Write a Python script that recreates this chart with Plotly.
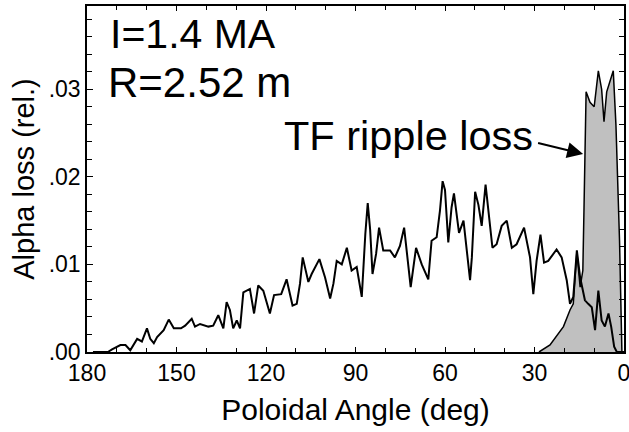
import plotly.graph_objects as go

# Total alpha loss vs poloidal angle
angle_total = [178, 173, 171.6, 168.8, 167.1, 165.5, 163.2, 161.6, 159.9, 158.8, 157.6, 156.5,
               154.3, 152.6, 150.9, 148.5, 147.1, 144.9, 143.8, 142.1, 139.3, 137.7, 136.0,
               134.3, 133.2, 132.1, 131.0, 129.8, 128.7, 127.6, 125.4, 124.0, 122.6, 120.9,
               118.7, 117.3, 114.9, 113.1, 111.1, 109.7, 108.6, 107.7, 105.8, 104.7, 102.1,
               100.2, 98.5, 97.4, 96.3, 94.6, 92.9, 91.3, 89.6, 87.9, 86.7, 85.9, 85.1, 84.3,
               83.1, 82.1, 80.7, 78.4, 76.8, 75.1, 73.7, 72.9, 71.5, 69.7, 67.8, 65.6, 64.5,
               62.8, 61.7, 60.8, 60.0, 58.9, 57.8, 57.0, 56.2, 55.3, 53.8, 52.7, 51.6, 51.0,
               49.9, 48.8, 47.7, 46.4, 45.5, 44.1, 42.7, 41.0, 39.3, 37.6, 36.0, 33.5, 31.5,
               30.4, 29.3, 28.0, 26.8, 25.4, 22.6, 20.9, 19.2, 18.1, 17.0, 15.8, 14.7, 13.8,
               13.1, 12.0, 10.8, 9.7, 8.6, 7.5, 6.4, 5.2, 4.3, 3.3, 2.4, 0.0]
loss_total = [0.0, 0.0, 0.0003, 0.0008, 0.0008, 0.0002, 0.0015, 0.0012, 0.0027, 0.0015, 0.0010,
              0.0017, 0.0025, 0.0037, 0.0027, 0.0027, 0.0030, 0.0038, 0.0029, 0.0032, 0.0029,
              0.0030, 0.0042, 0.0027, 0.0057, 0.0048, 0.0027, 0.0036, 0.0027, 0.0068, 0.0072,
              0.0044, 0.0076, 0.0070, 0.0044, 0.0065, 0.0066, 0.0083, 0.0053, 0.0055, 0.0078,
              0.0108, 0.0080, 0.0089, 0.0106, 0.0085, 0.0061, 0.0078, 0.0104, 0.0100, 0.0119,
              0.0093, 0.0097, 0.0063, 0.0135, 0.0170, 0.0140, 0.0089, 0.0112, 0.0142, 0.0116,
              0.0116, 0.0108, 0.0121, 0.0142, 0.0117, 0.0074, 0.0119, 0.0100, 0.0083, 0.0127,
              0.0131, 0.0161, 0.0195, 0.0185, 0.0125, 0.0165, 0.0181, 0.0160, 0.0136, 0.0150,
              0.0116, 0.0082, 0.0108, 0.0183, 0.0168, 0.0144, 0.0191, 0.0161, 0.0119, 0.0123,
              0.0144, 0.0150, 0.0119, 0.0123, 0.0142, 0.0108, 0.0066, 0.0104, 0.0134, 0.0102,
              0.0104, 0.0117, 0.0108, 0.0082, 0.0055, 0.0063, 0.0116, 0.0085, 0.0070, 0.0059,
              0.0055, 0.0051, 0.0025, 0.0070, 0.0036, 0.0029, 0.0044, 0.0029, 0.0006, 0.0, 0.0]

# TF ripple loss (shaded)
angle_ripple = [28.5, 24.8, 20.3, 18.1, 17.0, 15.8, 14.7, 13.8, 13.4, 13.1, 12.7, 11.4, 10.0,
                8.6, 7.5, 6.7, 5.8, 3.6, 2.7, 1.5, 0.7, 0.0]
loss_ripple = [0.0, 0.0008, 0.0029, 0.0048, 0.0055, 0.0114, 0.0074, 0.0093, 0.0165, 0.0227,
               0.0297, 0.0285, 0.0280, 0.0321, 0.0300, 0.0263, 0.0297, 0.0321, 0.0259, 0.0127,
               0.0, 0.0]

x_tickvals = [180, 150, 120, 90, 60, 30, 0]
x_ticktext = ["180", "150", "120", "90", "60", "30", "0"]
y_tickvals = [0.0, 0.01, 0.02, 0.03]
y_ticktext = [".00", ".01", ".02", ".03"]

FONT = "Liberation Sans, Arial, Helvetica, sans-serif"

fig = go.Figure()
fig.add_trace(go.Scatter(x=angle_ripple, y=loss_ripple, mode="lines", fill="tozeroy",
                         fillcolor="#c0c0c0", line=dict(color="black", width=1.5),
                         showlegend=False, hoverinfo="skip"))
fig.add_trace(go.Scatter(x=angle_total, y=loss_total, mode="lines",
                         line=dict(color="black", width=2),
                         showlegend=False, hoverinfo="skip"))

fig.add_annotation(xref="paper", yref="paper", x=0.040, y=0.918, text="I=1.4 MA",
                   showarrow=False, xanchor="left", yanchor="middle",
                   font=dict(family=FONT, size=41, color="black"))
fig.add_annotation(xref="paper", yref="paper", x=0.036, y=0.78, text="R=2.52 m",
                   showarrow=False, xanchor="left", yanchor="middle",
                   font=dict(family=FONT, size=42, color="black"))
fig.add_annotation(xref="paper", yref="paper", x=0.364, y=0.627, text="TF ripple loss",
                   showarrow=False, xanchor="left", yanchor="middle",
                   font=dict(family=FONT, size=41.5, color="black"))
fig.add_annotation(x=13.7, y=0.0226, ax=29.3, ay=0.0239, axref="x", ayref="y",
                   xref="x", yref="y", text="", showarrow=True,
                   arrowhead=2, arrowsize=1.6, arrowwidth=2, arrowcolor="black")

fig.update_xaxes(range=[180, 0], tickvals=x_tickvals, ticktext=x_ticktext,
                 showline=True, linecolor="black", linewidth=1.5, mirror="allticks",
                 ticks="inside", ticklen=5, tickcolor="black",
                 minor=dict(dtick=10, ticks="inside", ticklen=4, tickcolor="black"),
                 showgrid=False, zeroline=False, automargin=False,
                 ticklabeloverflow="allow",
                 tickfont=dict(family=FONT, size=23, color="black"),
                 title=dict(text="Poloidal Angle (deg)", font=dict(family=FONT, size=30, color="black"),
                            standoff=14))
fig.update_yaxes(range=[0, 0.0395], tickvals=y_tickvals, ticktext=y_ticktext,
                 showline=True, linecolor="black", linewidth=1.5, mirror="allticks",
                 ticks="inside", ticklen=6, tickcolor="black",
                 minor=dict(dtick=0.002, ticks="inside", ticklen=5, tickcolor="black"),
                 showgrid=False, zeroline=False, automargin=False,
                 tickfont=dict(family=FONT, size=23, color="black"),
                 title=dict(text="Alpha loss (rel.)", font=dict(family=FONT, size=29, color="black"),
                            standoff=6))

fig.update_layout(width=629, height=432, margin=dict(l=87, r=5, t=6, b=80, autoexpand=False),
                  plot_bgcolor="white", paper_bgcolor="white")

fig.write_html("out.html", config={"displayModeBar": False},
               post_script="document.body.style.margin='0';")
